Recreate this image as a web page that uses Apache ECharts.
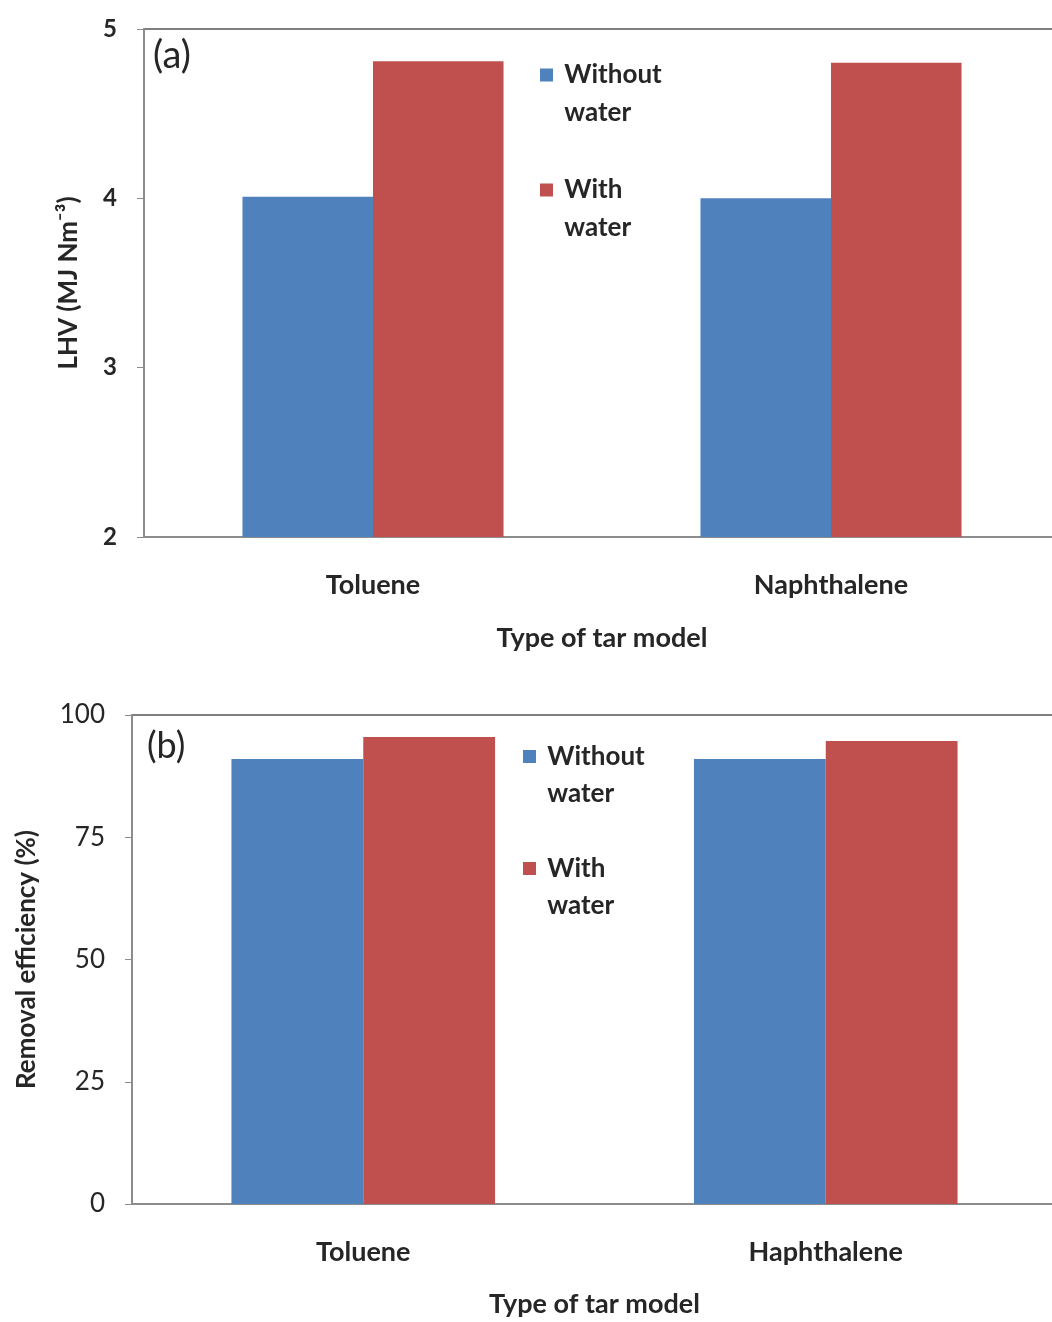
<!DOCTYPE html>
<html>
<head>
<meta charset="utf-8">
<script src="https://cdn.jsdelivr.net/npm/echarts@6/dist/echarts.min.js"></script>
<style>html,body{margin:0;padding:0;background:#fff}#chart{width:1052px;height:1322px}</style>
</head>
<body>
<div id="chart"></div>
<script>
// values
const seriesNames = ["Without\nwater", "With\nwater"];
const catsA = ["Toluene", "Naphthalene"];
const lhvWithout = [4.01, 4.00];
const lhvWith = [4.81, 4.80];
const catsB = ["Toluene", "Haphthalene"];
const remWithout = [91.0, 91.0];
const remWith = [95.5, 94.7];
const yTicksA = [2, 5, 1];   // min, max, interval
const yTicksB = [0, 100, 25];

const BLUE = "#4F81BD", RED = "#C0504D", TXT = "#262626";
const FONT = "Lato, 'Open Sans', sans-serif";

const chart = echarts.init(document.getElementById("chart"));

const xAxisOf = (idx, data, margin, gap) => ({
  type: "category", gridIndex: idx, data,
  name: "Type of tar model", nameLocation: "middle", nameGap: gap,
  nameTextStyle: { fontFamily: FONT, fontSize: 27, fontWeight: "bold", color: TXT },
  axisTick: { show: false },
  axisLine: { lineStyle: { color: "#8c8c8c", width: 2 } },
  axisLabel: { margin, fontFamily: FONT, fontSize: 27, fontWeight: "bold", color: TXT }
});
const yAxisOf = (idx, t, name, gap, bold) => ({
  type: "value", gridIndex: idx, min: t[0], max: t[1], interval: t[2],
  name, nameLocation: "middle", nameGap: gap,
  nameTextStyle: { fontFamily: FONT, fontSize: 26, fontWeight: "bold", color: TXT },
  axisLine: { show: true, lineStyle: { color: "#8c8c8c", width: 2 } },
  axisTick: { show: true, length: 7, lineStyle: { color: "#8c8c8c" } },
  splitLine: { show: false },
  axisLabel: { margin: 27, fontFamily: FONT, fontSize: bold ? 24 : 26, fontWeight: bold ? "bold" : "normal", color: TXT }
});
// leading blank line keeps the icon level with the first text line
const legendOf = (left, top, lh) => ({
  orient: "vertical", left, top, icon: "rect", itemWidth: 13, itemHeight: 13, itemGap: 1,
  data: seriesNames,
  formatter: n => "\n" + n.split("\n").map(s => " " + s).join("\n"),
  textStyle: { fontFamily: FONT, fontSize: 26, fontWeight: "bold", color: TXT, lineHeight: lh }
});
const barOf = (name, data, color, idx) => ({
  type: "bar", name, data, xAxisIndex: idx, yAxisIndex: idx,
  barGap: "0%", barCategoryGap: "43%", itemStyle: { color }
});

chart.setOption({
  animation: false,
  title: [
    { text: "(a)", left: 148, top: 32, textStyle: { fontFamily: FONT, fontSize: 38, fontWeight: "normal", color: TXT } },
    { text: "(b)", left: 142, top: 723, textStyle: { fontFamily: FONT, fontSize: 36, fontWeight: "normal", color: TXT } }
  ],
  legend: [legendOf(535, 13, 38), legendOf(518, 696, 37)],
  grid: [
    { left: 144, top: 29, width: 916, height: 508, outerBoundsMode: "none", show: true, borderColor: "#555", borderWidth: 1.5 },
    { left: 132, top: 715, width: 925, height: 489, outerBoundsMode: "none", show: true, borderColor: "#555", borderWidth: 1.5 }
  ],
  xAxis: [xAxisOf(0, catsA, 35, 88), xAxisOf(1, catsB, 35, 87)],
  yAxis: [
    yAxisOf(0, yTicksA, "LHV (MJ Nm\u207B\u00B3)", 62, true),
    yAxisOf(1, yTicksB, "Removal efficiency (%)", 92, false)
  ],
  series: [
    barOf(seriesNames[0], lhvWithout, BLUE, 0),
    barOf(seriesNames[1], lhvWith, RED, 0),
    barOf(seriesNames[0], remWithout, BLUE, 1),
    barOf(seriesNames[1], remWith, RED, 1)
  ]
});
window.addEventListener("resize", () => chart.resize());
</script>
</body>
</html>
